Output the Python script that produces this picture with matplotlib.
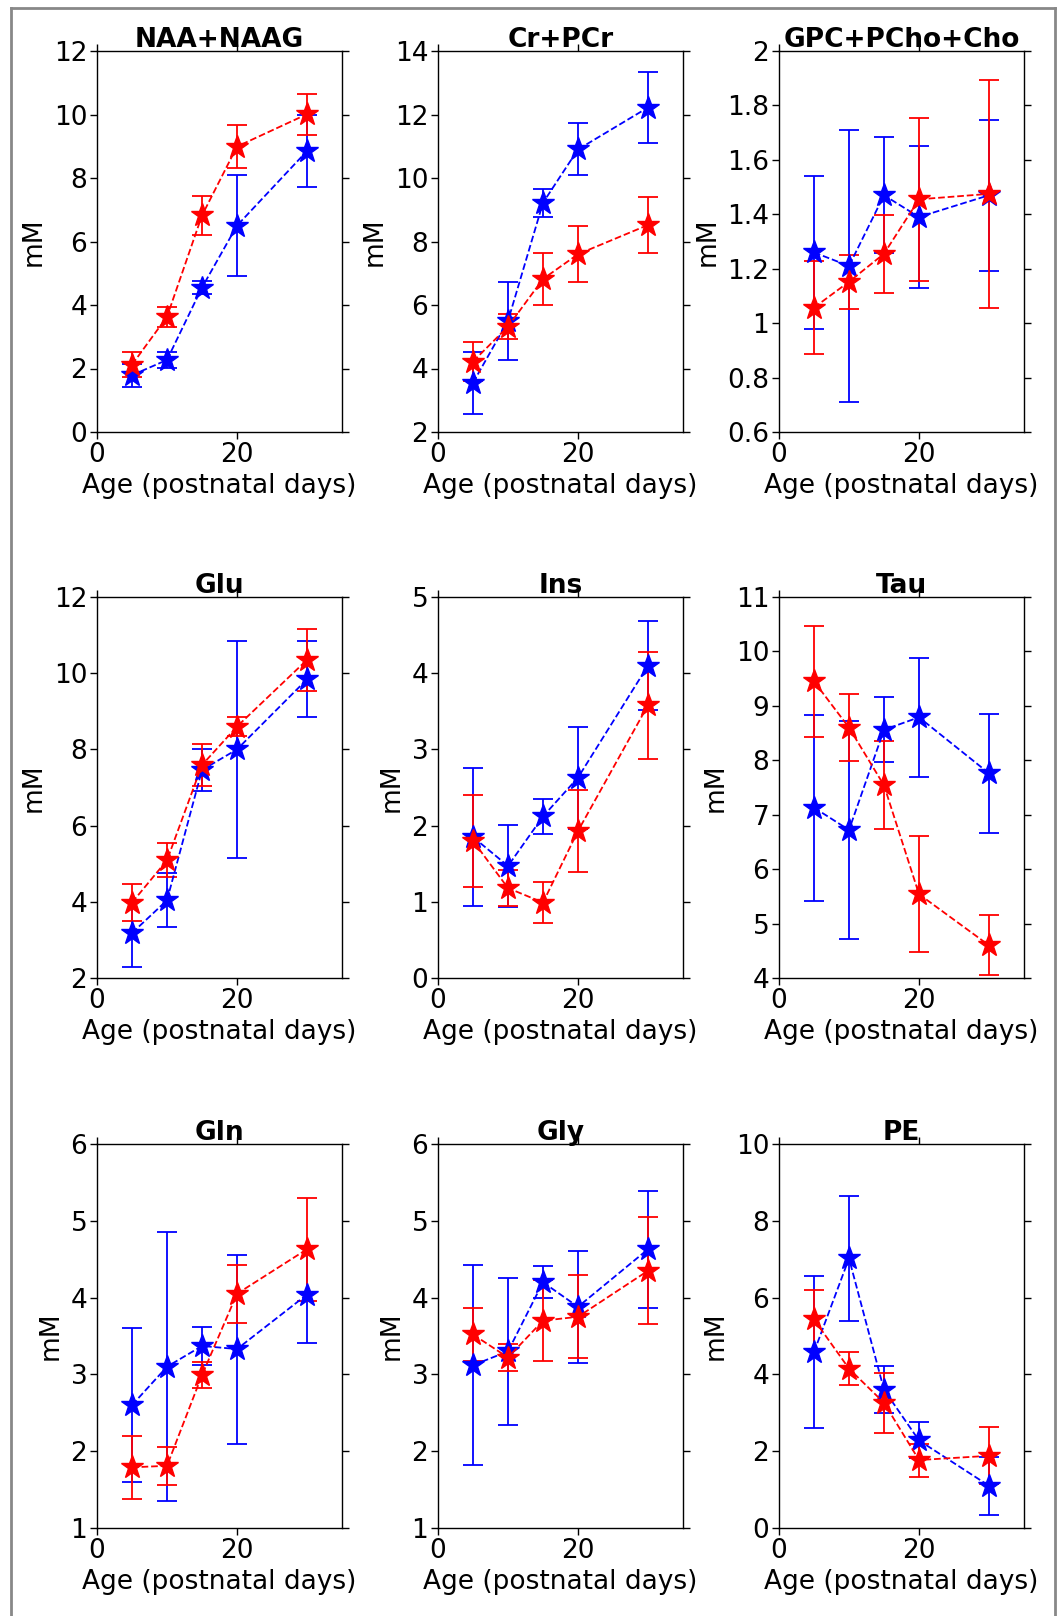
import matplotlib
matplotlib.use("Agg")
import matplotlib.pyplot as plt
from matplotlib.lines import Line2D

# Dados ###############################################################################

idade = [5, 10, 15, 20, 30]

titulos = ["NAA+NAAG", "Cr+PCr", "GPC+PCho+Cho",
           "Glu", "Ins", "Tau",
           "Gln", "Gly", "PE"]

azul_media = [
    [1.79, 2.27, 4.55, 6.50, 8.85],
    [3.55, 5.50, 9.22, 10.90, 12.22],
    [1.26, 1.21, 1.47, 1.39, 1.47],
    [3.18, 4.04, 7.46, 8.00, 9.84],
    [1.85, 1.47, 2.12, 2.63, 4.10],
    [7.13, 6.72, 8.56, 8.79, 7.76],
    [2.60, 3.10, 3.37, 3.33, 4.04],
    [3.12, 3.30, 4.20, 3.88, 4.63],
    [4.58, 7.02, 3.60, 2.28, 1.10],
]
azul_erro = [
    [0.36, 0.24, 0.20, 1.60, 1.12],
    [0.97, 1.22, 0.44, 0.82, 1.11],
    [0.28, 0.50, 0.214, 0.26, 0.277],
    [0.88, 0.71, 0.54, 2.84, 1.00],
    [0.90, 0.54, 0.23, 0.67, 0.58],
    [1.71, 2.00, 0.60, 1.09, 1.09],
    [1.00, 1.75, 0.25, 1.23, 0.63],
    [1.30, 0.96, 0.21, 0.73, 0.76],
    [1.97, 1.62, 0.61, 0.47, 0.76],
]

verm_media = [
    [2.12, 3.63, 6.82, 8.99, 10.01],
    [4.22, 5.32, 6.82, 7.60, 8.52],
    [1.057, 1.152, 1.255, 1.455, 1.475],
    [3.98, 5.09, 7.59, 8.60, 10.35],
    [1.80, 1.18, 0.99, 1.93, 3.58],
    [9.45, 8.60, 7.54, 5.54, 4.60],
    [1.79, 1.81, 2.99, 4.05, 4.63],
    [3.52, 3.22, 3.70, 3.75, 4.35],
    [5.43, 4.15, 3.26, 1.77, 1.88],
]
verm_erro = [
    [0.40, 0.31, 0.61, 0.69, 0.64],
    [0.60, 0.40, 0.82, 0.88, 0.89],
    [0.172, 0.10, 0.143, 0.30, 0.42],
    [0.49, 0.45, 0.55, 0.26, 0.82],
    [0.60, 0.24, 0.27, 0.54, 0.70],
    [1.02, 0.61, 0.81, 1.07, 0.55],
    [0.41, 0.25, 0.17, 0.38, 0.67],
    [0.35, 0.18, 0.53, 0.54, 0.70],
    [0.76, 0.43, 0.78, 0.43, 0.74],
]

limites_y = [(0, 12), (2, 14), (0.6, 2.0),
             (2, 12), (0, 5), (4, 11),
             (1, 6), (1, 6), (0, 10)]

ticks_y = [[0, 2, 4, 6, 8, 10, 12],
           [2, 4, 6, 8, 10, 12, 14],
           [0.6, 0.8, 1, 1.2, 1.4, 1.6, 1.8, 2],
           [2, 4, 6, 8, 10, 12],
           [0, 1, 2, 3, 4, 5],
           [4, 5, 6, 7, 8, 9, 10, 11],
           [1, 2, 3, 4, 5, 6],
           [1, 2, 3, 4, 5, 6],
           [0, 2, 4, 6, 8, 10]]

labels_y = [["0", "2", "4", "6", "8", "10", "12"],
            ["2", "4", "6", "8", "10", "12", "14"],
            ["0.6", "0.8", "1", "1.2", "1.4", "1.6", "1.8", "2"],
            ["2", "4", "6", "8", "10", "12"],
            ["0", "1", "2", "3", "4", "5"],
            ["4", "5", "6", "7", "8", "9", "10", "11"],
            ["1", "2", "3", "4", "5", "6"],
            ["1", "2", "3", "4", "5", "6"],
            ["0", "2", "4", "6", "8", "10"]]


# Figura ###############################################################################

W, H = 1057, 1616
fig = plt.figure(figsize=(W / 100, H / 100), dpi=100)

col_x = [97, 438, 779]
lin_y = [51, 597, 1144]
larg = 245
alt = [381, 381, 384]

fs = 19

for k in range(9):
    lin, col = k // 3, k % 3
    x0 = col_x[col] / W
    y0 = 1 - (lin_y[lin] + alt[lin]) / H
    ax = fig.add_axes([x0, y0, larg / W, alt[lin] / H])

    ax.errorbar(idade, azul_media[k], yerr=azul_erro[k], color="blue",
                linestyle="--", linewidth=1.3, marker="*", markersize=17,
                capsize=7, elinewidth=1.3, capthick=1.3)
    ax.errorbar(idade, verm_media[k], yerr=verm_erro[k], color="red",
                linestyle="--", linewidth=1.3, marker="*", markersize=17,
                capsize=7, elinewidth=1.3, capthick=1.3)

    ax.set_xlim(0, 35)
    ax.set_xticks([0, 20])
    ax.set_ylim(*limites_y[k])
    ax.set_yticks(ticks_y[k])
    ax.set_yticklabels(labels_y[k])
    ax.tick_params(direction="out", top=True, right=True, labelsize=fs,
                   length=5, width=1, pad=2)
    for s in ax.spines.values():
        s.set_linewidth(1.0)
    ax.set_title(titulos[k], fontsize=fs, fontweight="bold", pad=3)
    ax.set_xlabel("Age (postnatal days)", fontsize=fs, labelpad=4)
    ax.set_ylabel("mM", fontsize=fs, labelpad=5)

# Moldura cinza em volta da figura
cinza = "#888888"
fig.add_artist(Line2D([11 / W, 11 / W], [0, 1 - 8 / H], color=cinza, lw=2))
fig.add_artist(Line2D([11 / W, 1055 / W], [1 - 8 / H, 1 - 8 / H], color=cinza, lw=2))
fig.add_artist(Line2D([1055 / W, 1055 / W], [0, 1 - 8 / H], color=cinza, lw=2))

fig.savefig("out.png", dpi=100)
